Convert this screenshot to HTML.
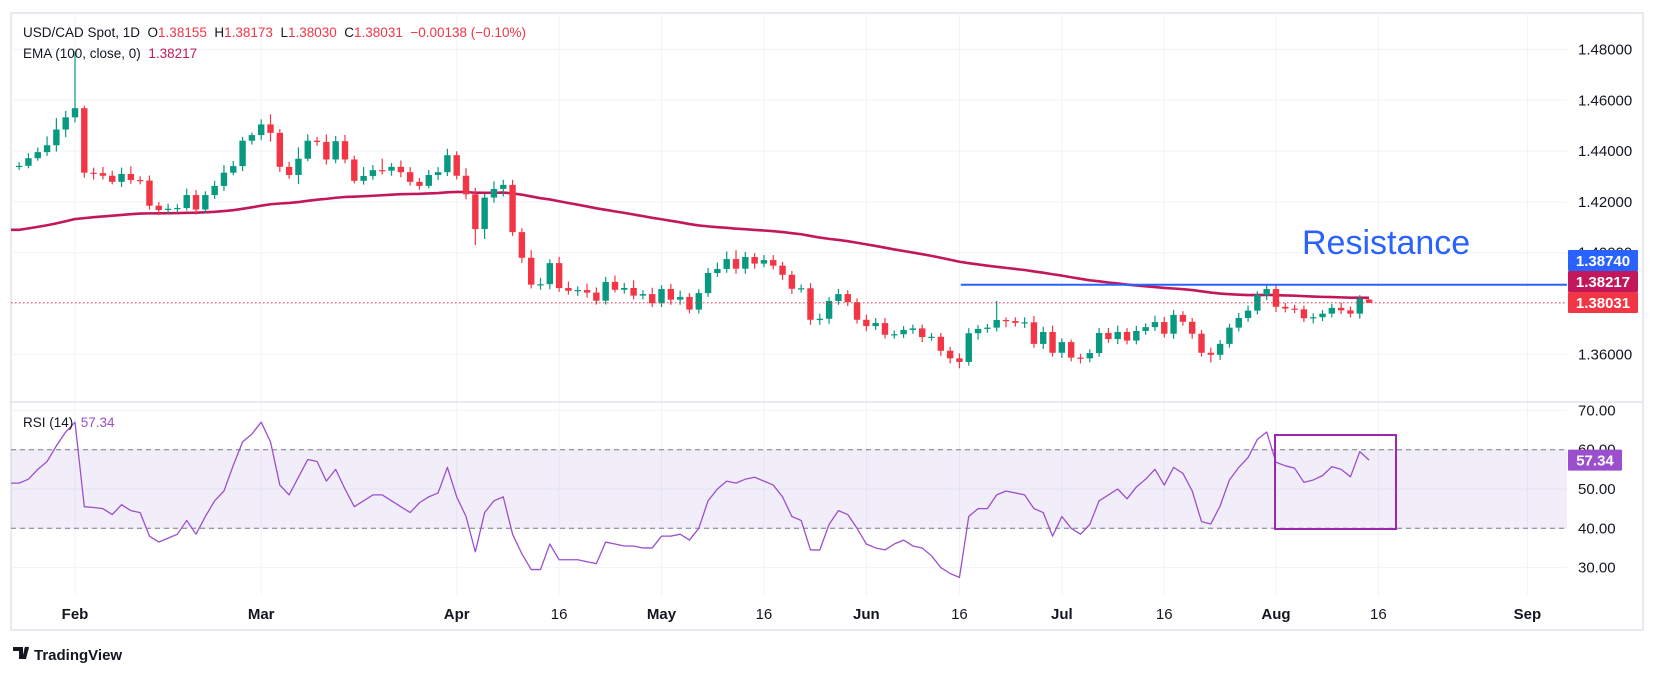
<!DOCTYPE html>
<html><head><meta charset="utf-8"><style>
body{margin:0;background:#fff;font-family:"Liberation Sans",sans-serif}
svg text{font-family:"Liberation Sans",sans-serif}
.pre{white-space:pre}
</style></head><body>
<svg id="c" width="1656" height="675" viewBox="0 0 1656 675" xmlns="http://www.w3.org/2000/svg">
<rect x="0" y="0" width="1656" height="675" fill="#fff"/>
<rect x="11" y="13" width="1632" height="617" fill="none" stroke="#e0e3eb" stroke-width="1.5"/>
<g id="grid"></g>
<g id="main"></g>
<g id="rsi"></g>
<g id="axes"></g>
<line x1="11" y1="402" x2="1643" y2="402" stroke="#e0e3eb" stroke-width="1.5"/>
<text class="pre" xml:space="preserve" x="23" y="37" font-size="13.5" fill="#131722">USD/CAD Spot, 1D  O<tspan fill="#f23645">1.38155</tspan>  H<tspan fill="#f23645">1.38173</tspan>  L<tspan fill="#f23645">1.38030</tspan>  C<tspan fill="#f23645">1.38031</tspan>  <tspan fill="#f23645">−0.00138 (−0.10%)</tspan></text>
<text class="pre" xml:space="preserve" x="23" y="58" font-size="13.5" fill="#131722">EMA (100, close, 0)  <tspan fill="#c2185b">1.38217</tspan></text>
<text class="pre" xml:space="preserve" x="23" y="427" font-size="13.5" fill="#131722">RSI (14)  <tspan fill="#9c4fcc">57.34</tspan></text>
<text x="1302" y="254" font-size="34" fill="#2962ff">Resistance</text>
<g>
<path d="M13 647h10v12h-4v-8h-6z M25 647h4l-3 12h-4z" fill="#131722"/>
<circle cx="26.5" cy="649" r="2.2" fill="#131722"/>
<text x="34" y="660" font-size="15" font-weight="bold" fill="#131722">TradingView</text>
</g>
</svg>
<script>
const closes=[1.4342,1.4372,1.4396,1.4423,1.4485,1.4533,1.4569,1.4315,1.4313,1.4303,
1.4279,1.4310,1.4286,1.4284,1.4185,1.4168,1.4173,1.4176,1.4227,1.4170,
1.4227,1.4263,1.4315,1.4341,1.4441,1.4463,1.4505,1.4472,1.4338,1.4306,
1.4370,1.4441,1.4436,1.4367,1.4439,1.4367,1.4283,1.4302,1.4325,1.4323,
1.4338,1.4317,1.4279,1.4263,1.4306,1.4317,1.4384,1.4303,1.4230,1.4093,
1.4217,1.4251,1.4267,1.4081,1.3980,1.3874,1.3876,1.3959,1.3861,1.3850,
1.3853,1.3843,1.3811,1.3885,1.3854,1.3861,1.3831,1.3837,1.3801,1.3857,
1.3815,1.3826,1.3776,1.3841,1.3920,1.3936,1.3975,1.3937,1.3983,1.3957,
1.3971,1.3949,1.3913,1.3858,1.3860,1.3736,1.3740,1.3810,1.3837,1.3805,
1.3736,1.3711,1.3723,1.3677,1.3679,1.3696,1.3702,1.3668,1.3669,1.3614,
1.3584,1.3570,1.3683,1.3700,1.3705,1.3735,1.3731,1.3724,1.3726,1.3641,
1.3688,1.3606,1.3648,1.3587,1.3584,1.3605,1.3684,1.3660,1.3688,1.3654,
1.3692,1.3707,1.3727,1.3681,1.3755,1.3728,1.3681,1.3606,1.3598,1.3641,
1.3705,1.3743,1.3772,1.3833,1.3857,1.3787,1.3780,1.3777,1.3742,1.3746,
1.3760,1.3783,1.3773,1.3760,1.3818,1.3803];
const firstOpen=1.4340;
const lastOpen=1.38155;
const upperWickPips=[15,20,18,35,45,25,224,10,20,25,20,25,30,15,20,15,20,15,25,20,
15,20,30,20,15,10,20,40,15,20,45,25,15,30,20,25,15,35,20,45,
15,25,20,15,20,20,25,15,30,25,15,30,20,20,15,30,25,15,25,25,
15,25,20,20,25,20,30,15,25,15,20,25,15,15,20,25,30,35,20,15,
20,20,15,15,15,20,20,15,20,15,15,20,20,20,15,15,15,15,15,15,
15,20,20,15,15,75,10,15,20,25,20,25,15,10,15,15,20,20,25,15,
20,15,25,20,20,15,15,15,20,15,15,20,20,15,15,17,15,15,15,15,
15,15,20,15,15,2];
const lowerWickPips=[15,10,10,15,25,30,20,20,25,15,10,20,15,15,15,20,15,15,10,20,
15,15,20,10,20,15,20,35,20,15,35,10,15,20,15,15,10,15,15,15,
20,20,15,15,10,20,15,15,20,63,39,20,30,15,20,15,20,20,15,15,
20,20,15,15,10,15,15,15,15,15,20,20,15,15,15,15,15,20,20,20,
15,15,20,20,15,20,20,20,15,15,15,20,15,15,15,15,15,20,15,20,
20,25,15,25,15,15,25,15,20,15,20,15,20,15,20,15,15,15,20,15,
15,15,15,15,20,15,20,15,30,20,15,15,15,15,20,20,15,15,15,20,
15,15,15,15,20,1];
const rsiValues=[51.5,52.5,55,57,61,64.5,67,45.5,45.3,45,43.5,46,44.5,44,38,36.5,37.5,38.5,42,38.5,
43,47,49.5,56,62,64,67,62,51,48.5,53,57.5,57,52,55,50,45.5,47,48.5,48.5,
47,45.5,44,46.5,48,49,55.5,48,43,34,44,47,48,38.5,33.5,29.5,29.5,36,32,32,
32,31.5,31,36.5,36,35.5,35.5,35,35,38,38,38.5,37,40,47,50,52,51.5,52.5,53,
52,51,48,43,42,34.5,34.5,41,44.5,43.5,40,36,35,34.5,36,37,35.5,35,33,30,
28.5,27.5,43,45,45,48.5,49.5,49,48.5,45,44,38,43,40,38.5,41,47,48.5,50,47.5,
50.5,52.5,55,51,55.5,54,49.5,41.7,41.1,45.7,52.3,55.5,58,62.6,64.5,56.8,55.9,55.3,
51.7,52.3,53.4,55.7,55.0,53.1,59.5,57.34];
const emaSeed=1.4085;
const emaPeriod=100;
const priceTicks=[1.48,1.46,1.44,1.42,1.40,1.38,1.36];
const rsiTicks=[70,60,50,40,30];
const timeLabels=["Feb","Mar","Apr","16","May","16","Jun","16","Jul","16","Aug","16","Sep"];
const timeLabelBars=[6,26,47,58,69,80,91,101,112,123,135,146,162];
const timeLabelBold=[1,1,1,0,1,0,1,0,1,0,1,0,1];
const resistanceLevel=1.3874;
const resistanceStartBar=102;
const emaLast=1.38217;

const NS="http://www.w3.org/2000/svg";
const L=11,R=1567;
const xOf=i=>75+(i-6)*9.31;
const yP=p=>303.5-(p-1.38)*2540;
const yR=v=>489-(v-50)*3.93;
function mk(tag,attrs,parent){const e=document.createElementNS(NS,tag);for(const k in attrs)e.setAttribute(k,attrs[k]);parent.appendChild(e);return e;}
const grid=document.getElementById('grid'),main=document.getElementById('main'),rsi=document.getElementById('rsi'),axes=document.getElementById('axes');

priceTicks.forEach(p=>{const l=mk('line',{x1:L,x2:R,y1:yP(p),y2:yP(p),stroke:'#f0f3fa','stroke-width':1},grid);

});
rsiTicks.forEach(v=>{const l=mk('line',{x1:L,x2:R,y1:yR(v),y2:yR(v),stroke:'#f0f3fa','stroke-width':1},grid);

});
timeLabelBars.forEach(b=>{const x=xOf(b);const l=mk('line',{x1:x,x2:x,y1:13,y2:595,stroke:'#f0f3fa','stroke-width':1},grid);

});

let ema=emaSeed;const emaPts=[];
closes.forEach((c,i)=>{ema=ema+(c-ema)*2/(emaPeriod+1);emaPts.push([xOf(i),yP(ema)]);});
const emaPath=mk('polyline',{points:[[L,emaPts[0][1]]].concat(emaPts).map(p=>p.join(',')).join(' '),fill:'none',stroke:'#c2185b','stroke-width':2.6,'stroke-linejoin':'round'},main);



closes.forEach((c,i)=>{
  const o=i===0?firstOpen:(i===closes.length-1?lastOpen:closes[i-1]);
  const up=c>=o;const col=up?'#089981':'#f23645';
  const top=Math.max(o,c),bot=Math.min(o,c);
  const hi=top+upperWickPips[i]/10000,lo=bot-lowerWickPips[i]/10000;
  const x=xOf(i);
  const g=mk('g',{},main);
  
  
  mk('line',{x1:x,x2:x,y1:yP(hi),y2:yP(lo),stroke:col,'stroke-width':1.2},g);
  const h=Math.max(1.2,yP(bot)-yP(top));
  mk('rect',{x:x-3.2,y:yP(top),width:6.4,height:h,fill:col},g);
});

const lp=mk('line',{x1:L,x2:R,y1:yP(closes[closes.length-1]),y2:yP(closes[closes.length-1]),stroke:'#f23645','stroke-width':1,'stroke-dasharray':'1.5 2.5'},main);


const rl=mk('line',{x1:xOf(resistanceStartBar)-8,x2:R,y1:yP(resistanceLevel),y2:yP(resistanceLevel),stroke:'#2962ff','stroke-width':2},main);



const band=mk('rect',{x:L,y:yR(60),width:R-L,height:yR(40)-yR(60),fill:'rgba(126,87,194,0.1)'},rsi);


[60,40].forEach(v=>{const l=mk('line',{x1:L,x2:R,y1:yR(v),y2:yR(v),stroke:'#787b86','stroke-width':1,'stroke-dasharray':'5 4'},rsi);

});
const rp=[[L,yR(rsiValues[0])]].concat(rsiValues.map((v,i)=>[xOf(i),yR(v)]));
const rl2=mk('polyline',{points:rp.map(p=>p.join(',')).join(' '),fill:'none',stroke:'#9c4fcc','stroke-width':1.3,'stroke-linejoin':'round'},rsi);


const box=mk('rect',{x:xOf(135)-1,y:435,width:121,height:94,fill:'none',stroke:'#9c27b0','stroke-width':2},rsi);



priceTicks.forEach(p=>{const t=mk('text',{x:1578,y:yP(p)+5,'font-size':15,fill:'#131722'},axes);t.textContent=p.toFixed(5);

});
rsiTicks.forEach(v=>{const t=mk('text',{x:1578,y:yR(v)+5,'font-size':15,fill:'#131722'},axes);t.textContent=v.toFixed(2);

});
timeLabels.forEach((s,k)=>{const t=mk('text',{x:xOf(timeLabelBars[k]),y:619,'font-size':15,fill:'#131722','text-anchor':'middle','font-weight':timeLabelBold[k]?'bold':'normal'},axes);t.textContent=s;

});
function tag(v,y,col,name){const g=mk('g',{},axes);


mk('rect',{x:1568,y:y-10.5,width:70,height:21,fill:col,rx:1},g);
const t=mk('text',{x:1603,y:y+5.5,'font-size':15,'font-weight':'bold',fill:'#fff','text-anchor':'middle'},g);t.textContent=v;}
tag(resistanceLevel.toFixed(5),260.5,'#2962ff','resistance-price-tag');
tag(emaLast.toFixed(5),281.5,'#c2185b','ema-price-tag');
tag('1.38031',302.5,'#f23645','last-price-tag');
(function(){const g=mk('g',{},axes);


const y=yR(rsiValues[rsiValues.length-1]);
mk('rect',{x:1568,y:y-10.5,width:54,height:21,fill:'#9c4fcc',rx:1},g);
const t=mk('text',{x:1595,y:y+5.5,'font-size':15,'font-weight':'bold',fill:'#fff','text-anchor':'middle'},g);t.textContent=rsiValues[rsiValues.length-1].toFixed(2);})();
</script>
</body></html>
